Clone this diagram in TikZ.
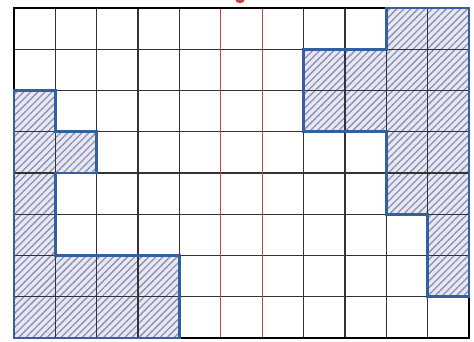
\documentclass[tikz,border=0pt]{standalone}
\usetikzlibrary{patterns.meta}
\definecolor{gridc}{HTML}{333333}
\definecolor{redl}{HTML}{C04848}
\definecolor{bluel}{HTML}{3560A0}
\definecolor{hatchbg}{HTML}{E8E8F4}
\definecolor{hatchln}{HTML}{8A90B0}
\tikzset{
  region/.style={fill=hatchbg},
  hatch/.style={pattern={Lines[angle=45,distance=5pt,line width=1.3pt]},pattern color=hatchln},
  rborder/.style={draw=bluel,line width=2.8pt,line join=miter},
  gridline/.style={draw=gridc,line width=1.4pt},
  redline/.style={draw=redl,line width=1.3pt},
  frame/.style={draw=black,line width=2.8pt}
}
\begin{document}
\begin{tikzpicture}[x=41.36pt,y=-41.25pt]
\useasboundingbox (-0.3385,-0.1939) rectangle (11.122,8.097);
\clip (-0.3385,-0.1939) rectangle (11.122,8.097);
\fill[white] (-0.3385,-0.1939) rectangle (11.122,8.097);
% regions
\def\leftreg{(0,2) -- (1,2) -- (1,3) -- (2,3) -- (2,4) -- (1,4) -- (1,6) -- (4,6) -- (4,8) -- (0,8) -- cycle}
\def\rightreg{(9,0) -- (11,0) -- (11,7) -- (10,7) -- (10,5) -- (9,5) -- (9,3) -- (7,3) -- (7,1) -- (9,1) -- cycle}
\path[region] \leftreg;
\path[region] \rightreg;
\path[hatch] \leftreg;
\path[hatch] \rightreg;
% grid
\foreach \i in {1,2,3,4,7,8,9,10} \draw[gridline] (\i,0) -- (\i,8);
\foreach \j in {1,...,7} \draw[gridline] (0,\j) -- (11,\j);
\draw[redline] (5,0) -- (5,8);
\draw[redline] (6,0) -- (6,8);
% frame
\draw[frame] (0,0) rectangle (11,8);
% region borders
\draw[rborder] \leftreg;
\draw[rborder] \rightreg;
% red mark at top (cut off)
\fill[redl] (5.465,-0.215) ellipse [x radius=0.12, y radius=0.1];
\end{tikzpicture}
\end{document}
